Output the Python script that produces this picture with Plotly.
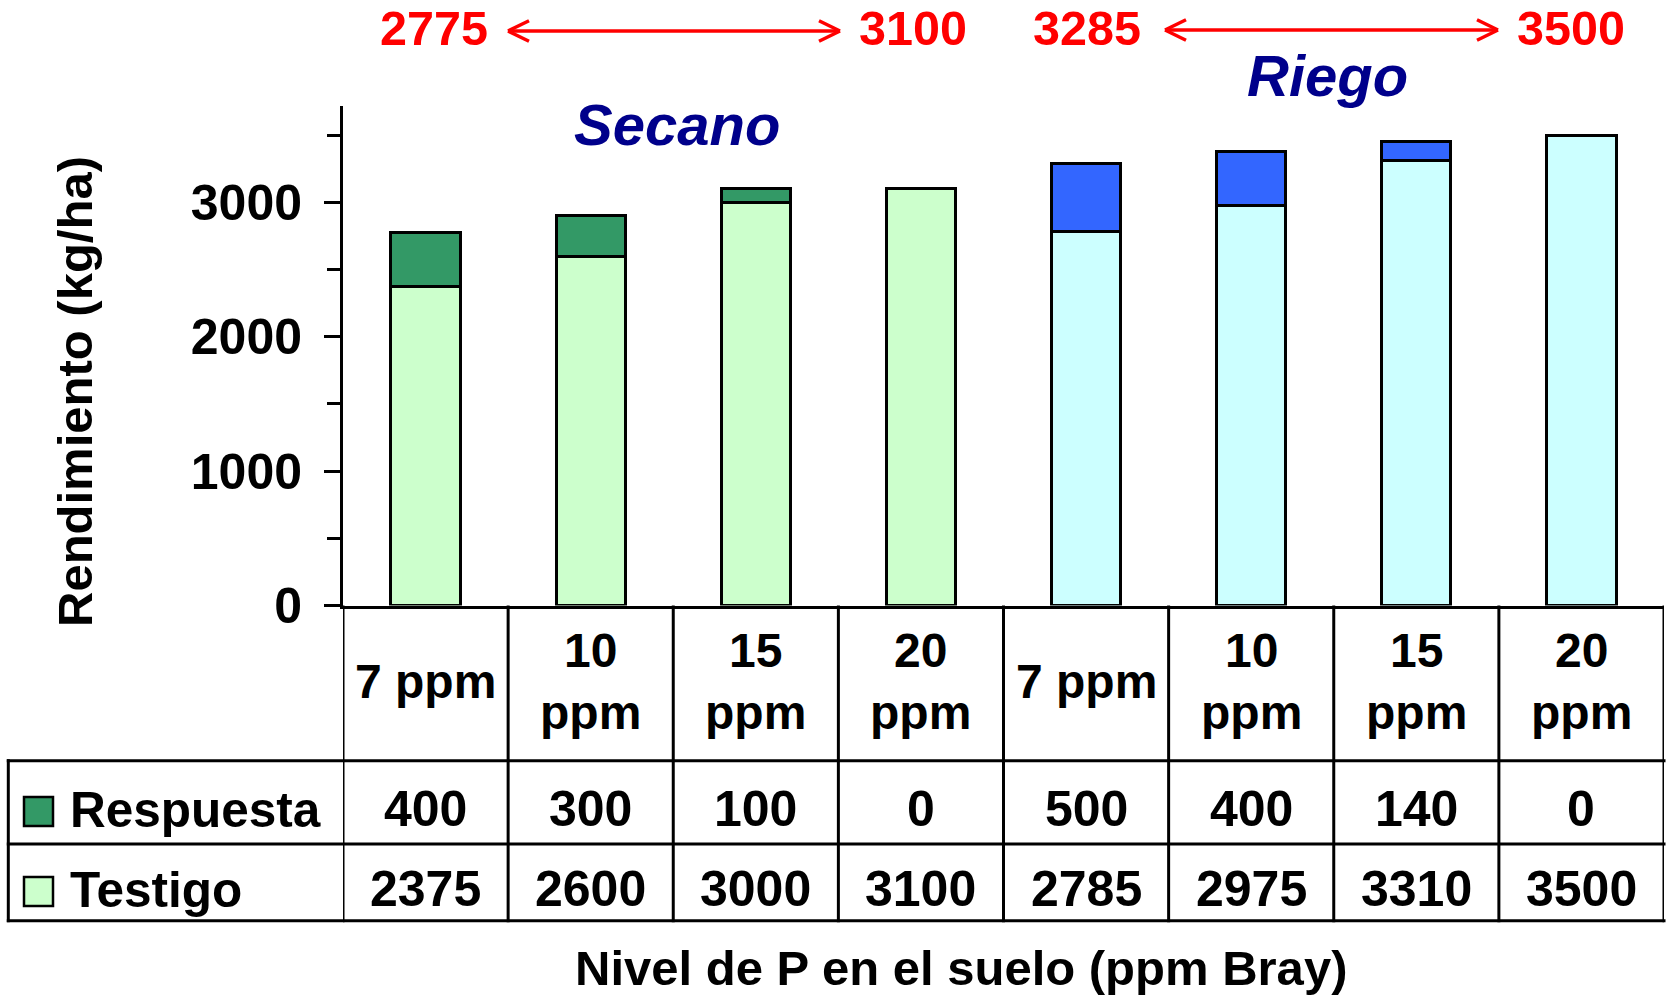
import plotly.graph_objects as go

W, H = 1669, 1005

# Soil P level per treatment, split by water regime
niveles = ["7 ppm", "10<br>ppm", "15<br>ppm", "20<br>ppm",
           "7 ppm", "10<br>ppm", "15<br>ppm", "20<br>ppm"]
manejo = ["Secano", "Secano", "Secano", "Secano",
          "Riego", "Riego", "Riego", "Riego"]
testigo = [2375, 2600, 3000, 3100, 2785, 2975, 3310, 3500]
respuesta = [400, 300, 100, 0, 500, 400, 140, 0]
y_ticks = [0, 1000, 2000, 3000]
y_minor = [500, 1500, 2500, 3500]

color_testigo = {"Secano": "#CCFFCC", "Riego": "#CCFFFF"}
color_respuesta = {"Secano": "#339966", "Riego": "#3366FF"}

FONT = "Liberation Sans, Arial, sans-serif"
pos = list(range(len(niveles)))
totales = [t + r for t, r in zip(testigo, respuesta)]


def px_x(p):
    return p / W


def px_y(p):
    return 1 - p / H


def bold(size, color="black", italic=False):
    return dict(family=FONT, size=size, color=color, weight="bold",
                style="italic" if italic else "normal")


fig = go.Figure()
fig.add_bar(
    x=pos, y=testigo, width=0.42, name="Testigo",
    marker=dict(color=[color_testigo[m] for m in manejo],
                line=dict(color="black", width=3)),
)
fig.add_bar(
    x=pos, y=[r if r else None for r in respuesta], width=0.42, name="Respuesta",
    marker=dict(color=[color_respuesta[m] for m in manejo],
                line=dict(color="black", width=3)),
)

x_dom = [px_x(343), px_x(1664)]
y_axis_bottom, y_axis_top = 605.6, 105.5

fig.update_layout(
    template="none",
    width=W, height=H, margin=dict(l=0, r=0, t=0, b=0, pad=0, autoexpand=False),
    paper_bgcolor="white", plot_bgcolor="white",
    barmode="stack", showlegend=False,
    xaxis=dict(domain=x_dom, range=[-0.5, len(pos) - 0.5], automargin=False,
               showline=True, linewidth=3, linecolor="black",
               showticklabels=False, ticks="", showgrid=False, zeroline=False),
    yaxis=dict(domain=[px_y(y_axis_bottom), px_y(y_axis_top)], range=[0, 3720],
               automargin=False,
               tickmode="array", tickvals=y_ticks, ticks="outside",
               ticklen=16, tickwidth=3, tickcolor="black",
               minor=dict(tickmode="array", tickvals=y_minor, ticks="outside",
                          ticklen=13, tickwidth=3, tickcolor="black"),
               showline=True, linewidth=3, linecolor="black",
               showgrid=False, zeroline=False,
               tickfont=bold(50), ticklabelstandoff=12),
)

# Data table under the bars
tbl_left, tbl_right = 8.3, 1664
row_top, row_mid, row_bot = 760.7, 844, 920.7
line = dict(color="black", width=3)
shapes = []
for i in range(len(pos) + 1):
    shapes.append(dict(type="line", xref="x", yref="paper",
                       x0=i - 0.5, x1=i - 0.5,
                       y0=px_y(y_axis_bottom), y1=px_y(row_bot + 1.5), line=line))
shapes.append(dict(type="line", xref="paper", yref="paper",
                   x0=px_x(tbl_left), x1=px_x(tbl_left),
                   y0=px_y(row_top - 1.5), y1=px_y(row_bot + 1.5), line=line))
for yy in (row_top, row_mid, row_bot):
    shapes.append(dict(type="line", xref="paper", yref="paper",
                       x0=px_x(tbl_left - 1.5), x1=px_x(tbl_right + 1.5),
                       y0=px_y(yy), y1=px_y(yy), line=line))

# Legend keys inside the table
for (y0, y1), fill in (((797, 826), "#339966"), ((877, 906), "#CCFFCC")):
    shapes.append(dict(type="rect", xref="paper", yref="paper",
                       x0=px_x(24), x1=px_x(53), y0=px_y(y1), y1=px_y(y0),
                       fillcolor=fill, line=dict(color="black", width=2.5)))


# Double-headed range arrows
def double_arrow(x0, x1, y, color="#FF0000", w=3.5, dx=21, dy=10.3):
    segs = [((x0, y), (x1, y)),
            ((x0, y), (x0 + dx, y - dy)), ((x0, y), (x0 + dx, y + dy)),
            ((x1, y), (x1 - dx, y - dy)), ((x1, y), (x1 - dx, y + dy))]
    for (a, b), (c, d) in segs:
        shapes.append(dict(type="line", xref="paper", yref="paper",
                           x0=px_x(a), y0=px_y(b), x1=px_x(c), y1=px_y(d),
                           line=dict(color=color, width=w)))


double_arrow(508, 840, 31)
double_arrow(1165, 1498, 30)
fig.update_layout(shapes=shapes)

ann = []
# Category labels and table values
for i in pos:
    ann.append(dict(x=i, xref="x", y=px_y(681), yref="paper", text=niveles[i],
                    showarrow=False, font=bold(48), xanchor="center", yanchor="middle"))
    ann.append(dict(x=i, xref="x", y=px_y(809), yref="paper", text=str(respuesta[i]),
                    showarrow=False, font=bold(50), xanchor="center", yanchor="middle"))
    ann.append(dict(x=i, xref="x", y=px_y(889), yref="paper", text=str(testigo[i]),
                    showarrow=False, font=bold(50), xanchor="center", yanchor="middle"))

ann.append(dict(x=px_x(68), y=px_y(809), xref="paper", yref="paper", text="Respuesta",
                showarrow=False, font=bold(49.5), xanchor="left", yanchor="middle"))
ann.append(dict(x=px_x(68), y=px_y(889), xref="paper", yref="paper", text="Testigo",
                showarrow=False, font=bold(49.5), xanchor="left", yanchor="middle"))

# Axis titles
ann.append(dict(x=px_x(75), y=px_y(392), xref="paper", yref="paper",
                text="Rendimiento (kg/ha)", textangle=-90, showarrow=False,
                font=bold(49), xanchor="center", yanchor="middle"))
ann.append(dict(x=px_x(961), y=px_y(968), xref="paper", yref="paper",
                text="Nivel de P en el suelo (ppm Bray)", showarrow=False,
                font=bold(49), xanchor="center", yanchor="middle"))

# Group headers
ann.append(dict(x=px_x(677), y=px_y(124), xref="paper", yref="paper", text="Secano",
                showarrow=False, font=bold(58, "#00008B", italic=True),
                xanchor="center", yanchor="middle"))
ann.append(dict(x=px_x(1327), y=px_y(75), xref="paper", yref="paper", text="Riego",
                showarrow=False, font=bold(58, "#00008B", italic=True),
                xanchor="center", yanchor="middle"))

# Range of totals per water regime (lowest P level -> highest P level)
for xc, val in ((434, totales[0]), (913, totales[3]),
                (1087, totales[4]), (1571, totales[7])):
    ann.append(dict(x=px_x(xc), y=px_y(28), xref="paper", yref="paper", text=str(val),
                    showarrow=False, font=bold(48.5, "#FF0000"),
                    xanchor="center", yanchor="middle"))

fig.update_layout(annotations=ann)
fig.write_html("out.html")
